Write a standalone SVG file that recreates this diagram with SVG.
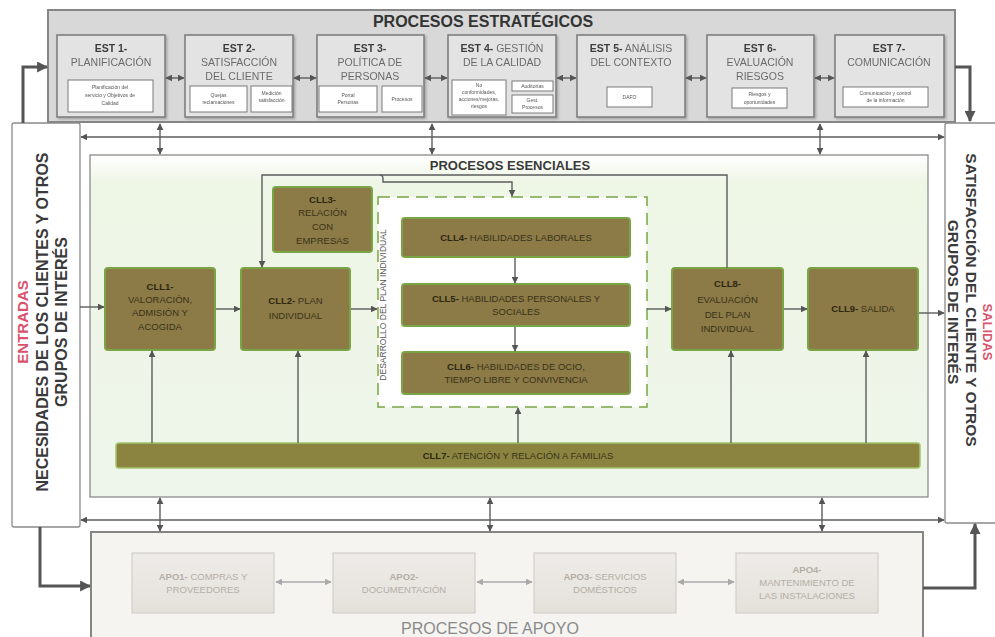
<svg xmlns="http://www.w3.org/2000/svg" width="995" height="637" viewBox="0 0 995 637">
<defs>
<style>
 text { font-family: "Liberation Sans", Arial, sans-serif; }
 .est { fill:#e3e3e3; stroke:#7a7a7a; stroke-width:1.5; }
 .sub { fill:#ffffff; stroke:#7a7a7a; stroke-width:1; }
 .estT { font-size:10.5px; fill:#6b6b6b; text-anchor:middle; }
 .b { font-weight:bold; fill:#3d3d3d; }
 .subT { font-size:5px; fill:#555; text-anchor:middle; }
 .cll { fill:#8c7a47; stroke:#7aa545; stroke-width:2; }
 .cllT { font-size:9.5px; fill:#3a3218; text-anchor:middle; }
 .cllB { font-weight:bold; fill:#2e2812; }
 .apo { fill:url(#apoG); stroke:#d2cfc8; stroke-width:1.2; }
 .apoT { font-size:9.5px; fill:#b3aea6; text-anchor:middle; }
 .ln { fill:none; stroke:#5c5c5c; stroke-width:1.4; }
 .thick { fill:none; stroke:#555; stroke-width:3; }
 .lg { fill:none; stroke:#a9a9a9; stroke-width:1.4; }
 .side { fill:#ffffff; stroke:#8a8a8a; stroke-width:1.3; }
 .sideT { font-size:15.5px; font-weight:bold; fill:#3a3a3a; text-anchor:middle; }
 .red { font-size:15px; font-weight:bold; fill:#d9536d; text-anchor:middle; }
</style>
<marker id="ah" viewBox="0 0 10 10" refX="9" refY="5" markerWidth="7" markerHeight="7" markerUnits="userSpaceOnUse" orient="auto-start-reverse">
 <path d="M0,0 L10,5 L0,10 z" fill="#555"/>
</marker>
<marker id="ahBig" viewBox="0 0 10 10" refX="9" refY="5" markerWidth="11" markerHeight="11" markerUnits="userSpaceOnUse" orient="auto-start-reverse">
 <path d="M0,0 L10,5 L0,10 z" fill="#555"/>
</marker>
<marker id="ahLight" viewBox="0 0 10 10" refX="9" refY="5" markerWidth="7" markerHeight="7" markerUnits="userSpaceOnUse" orient="auto-start-reverse">
 <path d="M0,0 L10,5 L0,10 z" fill="#a9a9a9"/>
</marker>
<linearGradient id="greenG" x1="0" y1="0" x2="0" y2="1">
 <stop offset="0" stop-color="#ffffff"/>
 <stop offset="0.08" stop-color="#eef6e6"/>
 <stop offset="1" stop-color="#eef5ea"/>
</linearGradient>
<linearGradient id="apoG" x1="0" y1="0" x2="0" y2="1">
 <stop offset="0" stop-color="#eeece8"/>
 <stop offset="1" stop-color="#e4e1db"/>
</linearGradient>
<filter id="sh" x="-5%" y="-5%" width="115%" height="120%">
 <feDropShadow dx="1.5" dy="1.5" stdDeviation="1" flood-color="#000" flood-opacity="0.25"/>
</filter>
</defs>

<rect width="995" height="637" fill="#ffffff"/>

<!-- Strategic processes band -->
<g id="estrategicos">
 <rect x="48" y="10" width="907" height="112" fill="#d8d8d8" stroke="#858585" stroke-width="2"/>
 <text x="483" y="27" font-size="16" font-weight="bold" fill="#333" text-anchor="middle">PROCESOS ESTRATÉGICOS</text>
</g>

<g id="est1" filter="url(#sh)">
 <rect class="est" x="57" y="35" width="108" height="82"/>
 <text class="estT"><tspan class="b" x="111" y="52">EST 1-</tspan><tspan x="111" y="66">PLANIFICACIÓN</tspan></text>
 <rect class="sub" x="68" y="80" width="85" height="32"/>
 <text class="subT"><tspan x="110" y="89">Planificación del</tspan><tspan x="110" y="97">servicio y Objetivos de</tspan><tspan x="110" y="105">Calidad</tspan></text>
</g>

<g id="est2" filter="url(#sh)">
 <rect class="est" x="185" y="35" width="108" height="82"/>
 <text class="estT"><tspan class="b" x="239" y="52">EST 2-</tspan><tspan x="239" y="66">SATISFACCIÓN</tspan><tspan x="239" y="80">DEL CLIENTE</tspan></text>
 <rect class="sub" x="190" y="86" width="57" height="26"/>
 <text class="subT"><tspan x="218.5" y="97">Quejas</tspan><tspan x="218.5" y="104">reclamaciones</tspan></text>
 <rect class="sub" x="251" y="86" width="41" height="26"/>
 <text class="subT"><tspan x="271.5" y="95">Medición</tspan><tspan x="271.5" y="102">satisfacción</tspan></text>
</g>

<g id="est3" filter="url(#sh)">
 <rect class="est" x="317" y="35" width="107" height="82"/>
 <text class="estT"><tspan class="b" x="370" y="52">EST 3-</tspan><tspan x="370" y="66">POLÍTICA DE</tspan><tspan x="370" y="80">PERSONAS</tspan></text>
 <rect class="sub" x="319" y="86" width="58" height="26"/>
 <text class="subT"><tspan x="348" y="97">Portal</tspan><tspan x="348" y="104">Personas</tspan></text>
 <rect class="sub" x="382" y="86" width="40" height="26"/>
 <text class="subT" x="402" y="101">Procesos</text>
</g>

<g id="est4" filter="url(#sh)">
 <rect class="est" x="448" y="35" width="108" height="82"/>
 <text class="estT"><tspan x="502" y="52"><tspan class="b">EST 4-</tspan> GESTIÓN</tspan><tspan x="502" y="66">DE LA CALIDAD</tspan></text>
 <rect class="sub" x="452" y="80" width="54" height="35"/>
 <text class="subT"><tspan x="479" y="87">No</tspan><tspan x="479" y="94">conformidades,</tspan><tspan x="479" y="101">acciones/mejoras,</tspan><tspan x="479" y="108">riesgos</tspan></text>
 <rect class="sub" x="512" y="81" width="41" height="10"/>
 <text class="subT" x="532.5" y="88">Auditorías</text>
 <rect class="sub" x="512" y="95" width="41" height="18"/>
 <text class="subT"><tspan x="532.5" y="102">Gest.</tspan><tspan x="532.5" y="109">Procesos</tspan></text>
</g>

<g id="est5" filter="url(#sh)">
 <rect class="est" x="577" y="35" width="108" height="82"/>
 <text class="estT"><tspan x="631" y="52"><tspan class="b">EST 5-</tspan> ANÁLISIS</tspan><tspan x="631" y="66">DEL CONTEXTO</tspan></text>
 <rect class="sub" x="607" y="87" width="45" height="20"/>
 <text class="subT" x="629.5" y="99">DAFO</text>
</g>

<g id="est6" filter="url(#sh)">
 <rect class="est" x="707" y="35" width="107" height="82"/>
 <text class="estT"><tspan class="b" x="760" y="52">EST 6-</tspan><tspan x="760" y="66">EVALUACIÓN</tspan><tspan x="760" y="80">RIESGOS</tspan></text>
 <rect class="sub" x="732" y="88" width="55" height="20"/>
 <text class="subT"><tspan x="759.5" y="96">Riesgos y</tspan><tspan x="759.5" y="104">oportunidades</tspan></text>
</g>

<g id="est7" filter="url(#sh)">
 <rect class="est" x="835" y="35" width="109" height="82"/>
 <text class="estT"><tspan class="b" x="889" y="52">EST 7-</tspan><tspan x="889" y="66">COMUNICACIÓN</tspan></text>
 <rect class="sub" x="843" y="87" width="85" height="20"/>
 <text class="subT"><tspan x="885.5" y="95">Comunicación y control</tspan><tspan x="885.5" y="102">de la información</tspan></text>
</g>

<!-- Inputs / outputs columns -->
<g id="entradas">
 <rect class="side" x="12" y="123" width="68" height="404" rx="2"/>
 <text class="red" transform="translate(28,322) rotate(-90)">ENTRADAS</text>
 <text class="sideT" transform="translate(48,322) rotate(-90)" style="font-size:16px">NECESIDADES DE LOS CLIENTES Y OTROS</text>
 <text class="sideT" transform="translate(67,322) rotate(-90)" style="font-size:16px">GRUPOS DE INTERÉS</text>
</g>

<g id="salidas">
 <rect class="side" x="945" y="123" width="60" height="400" rx="2"/>
 <text class="red" transform="translate(983,332) rotate(90)" style="font-size:13px">SALIDAS</text>
 <text class="sideT" transform="translate(966,300) rotate(90)">SATISFACCIÓN DEL CLIENTE Y OTROS</text>
 <text class="sideT" transform="translate(948,302) rotate(90)">GRUPOS DE INTERÉS</text>
</g>

<!-- Core processes area -->
<g id="esenciales">
 <rect x="90" y="155" width="838" height="342" fill="url(#greenG)" stroke="#8a8a8a" stroke-width="1.3"/>
 <text x="510" y="170" font-size="13" font-weight="bold" fill="#3a3a3a" text-anchor="middle">PROCESOS ESENCIALES</text>
</g>

<g id="desarrollo">
 <rect x="378" y="197" width="269" height="210" fill="#ffffff" stroke="#7aa545" stroke-width="1.5" stroke-dasharray="12,7"/>
 <text transform="translate(386,305) rotate(-90)" font-size="8.5" fill="#555" text-anchor="middle">DESARROLLO DEL PLAN INDIVIDUAL</text>
</g>

<g id="cll3">
 <rect class="cll" x="273" y="187" width="99" height="65" rx="3"/>
 <text class="cllT"><tspan class="cllB" x="322.5" y="203">CLL3-</tspan><tspan x="322.5" y="216">RELACIÓN</tspan><tspan x="322.5" y="230">CON</tspan><tspan x="322.5" y="244">EMPRESAS</tspan></text>
</g>

<g id="cll1">
 <rect class="cll" x="105" y="268" width="110" height="82" rx="3"/>
 <text class="cllT"><tspan class="cllB" x="160" y="290">CLL1-</tspan><tspan x="160" y="303">VALORACIÓN,</tspan><tspan x="160" y="316">ADMISIÓN Y</tspan><tspan x="160" y="330">ACOGIDA</tspan></text>
</g>

<g id="cll2">
 <rect class="cll" x="241" y="268" width="109" height="82" rx="3"/>
 <text class="cllT"><tspan x="295.5" y="304"><tspan class="cllB">CLL2-</tspan> PLAN</tspan><tspan x="295.5" y="319">INDIVIDUAL</tspan></text>
</g>

<g id="cll4">
 <rect class="cll" x="402" y="218" width="228" height="39" rx="3"/>
 <text class="cllT" x="516" y="241"><tspan class="cllB">CLL4-</tspan> HABILIDADES LABORALES</text>
</g>

<g id="cll5">
 <rect class="cll" x="402" y="284" width="228" height="42" rx="3"/>
 <text class="cllT"><tspan x="516" y="302"><tspan class="cllB">CLL5-</tspan> HABILIDADES PERSONALES Y</tspan><tspan x="516" y="315">SOCIALES</tspan></text>
</g>

<g id="cll6">
 <rect class="cll" x="402" y="352" width="228" height="42" rx="3"/>
 <text class="cllT"><tspan x="516" y="370"><tspan class="cllB">CLL6-</tspan> HABILIDADES DE OCIO,</tspan><tspan x="516" y="383">TIEMPO LIBRE Y CONVIVENCIA</tspan></text>
</g>

<g id="cll8">
 <rect class="cll" x="672" y="268" width="111" height="82" rx="3"/>
 <text class="cllT"><tspan class="cllB" x="727.5" y="287">CLL8-</tspan><tspan x="727.5" y="303">EVALUACIÓN</tspan><tspan x="727.5" y="318">DEL PLAN</tspan><tspan x="727.5" y="332">INDIVIDUAL</tspan></text>
</g>

<g id="cll9">
 <rect class="cll" x="808" y="268" width="110" height="82" rx="3"/>
 <text class="cllT" x="863" y="312"><tspan class="cllB">CLL9-</tspan> SALIDA</text>
</g>

<g id="cll7">
 <rect x="116" y="443" width="804" height="25" rx="3" fill="#8b8441" stroke="#a3c46a" stroke-width="1.5"/>
 <text class="cllT" x="518" y="459"><tspan class="cllB">CLL7-</tspan> ATENCIÓN Y RELACIÓN A FAMILIAS</text>
</g>

<!-- Support processes band -->
<g id="apoyo">
 <rect x="91" y="532" width="832" height="110" fill="#f5f4f1" stroke="#858585" stroke-width="2"/>
 <text x="490" y="634" font-size="16" fill="#8a8a8a" text-anchor="middle">PROCESOS DE APOYO</text>
</g>

<g id="apo1">
 <rect class="apo" x="132" y="553" width="142" height="60"/>
 <text class="apoT"><tspan x="203" y="580"><tspan font-weight="bold">APO1-</tspan> COMPRAS Y</tspan><tspan x="203" y="593">PROVEEDORES</tspan></text>
</g>
<g id="apo2">
 <rect class="apo" x="333" y="553" width="142" height="60"/>
 <text class="apoT"><tspan font-weight="bold" x="404" y="580">APO2-</tspan><tspan x="404" y="593">DOCUMENTACIÓN</tspan></text>
</g>
<g id="apo3">
 <rect class="apo" x="534" y="553" width="142" height="60"/>
 <text class="apoT"><tspan x="605" y="580"><tspan font-weight="bold">APO3-</tspan> SERVICIOS</tspan><tspan x="605" y="593">DOMÉSTICOS</tspan></text>
</g>
<g id="apo4">
 <rect class="apo" x="736" y="553" width="142" height="60"/>
 <text class="apoT"><tspan font-weight="bold" x="807" y="573">APO4-</tspan><tspan x="807" y="586">MANTENIMIENTO DE</tspan><tspan x="807" y="599">LAS INSTALACIONES</tspan></text>
</g>

<!-- Connectors -->
<g id="connectors">
 <!-- between strategic processes -->
 <line class="ln" x1="166" y1="78" x2="184" y2="78" marker-start="url(#ah)" marker-end="url(#ah)"/>
 <line class="ln" x1="294" y1="78" x2="316" y2="78" marker-start="url(#ah)" marker-end="url(#ah)"/>
 <line class="ln" x1="425" y1="78" x2="447" y2="78" marker-start="url(#ah)" marker-end="url(#ah)"/>
 <line class="ln" x1="557" y1="78" x2="576" y2="78" marker-start="url(#ah)" marker-end="url(#ah)"/>
 <line class="ln" x1="686" y1="78" x2="706" y2="78" marker-start="url(#ah)" marker-end="url(#ah)"/>
 <line class="ln" x1="815" y1="78" x2="834" y2="78" marker-start="url(#ah)" marker-end="url(#ah)"/>

 <!-- upper bus -->
 <line class="ln" x1="81" y1="137" x2="944" y2="137" marker-start="url(#ah)" marker-end="url(#ah)"/>
 <line class="ln" x1="160" y1="124" x2="160" y2="154" marker-start="url(#ah)" marker-end="url(#ah)"/>
 <line class="ln" x1="432" y1="124" x2="432" y2="154" marker-start="url(#ah)" marker-end="url(#ah)"/>
 <line class="ln" x1="820" y1="124" x2="820" y2="154" marker-start="url(#ah)" marker-end="url(#ah)"/>

 <!-- lower bus -->
 <line class="ln" x1="81" y1="520" x2="944" y2="520" marker-start="url(#ah)" marker-end="url(#ah)"/>
 <line class="ln" x1="160" y1="498" x2="160" y2="531" marker-start="url(#ah)" marker-end="url(#ah)"/>
 <line class="ln" x1="490" y1="498" x2="490" y2="531" marker-start="url(#ah)" marker-end="url(#ah)"/>
 <line class="ln" x1="822" y1="498" x2="822" y2="531" marker-start="url(#ah)" marker-end="url(#ah)"/>

 <!-- outer loops -->
 <path class="thick" d="M23,123 V67 H47" marker-end="url(#ahBig)"/>
 <path class="thick" d="M955,67 H970 V121" marker-end="url(#ahBig)"/>
 <path class="thick" d="M40,527 V586 H90" marker-end="url(#ahBig)"/>
 <path class="thick" d="M923,588 H975 V524" marker-end="url(#ahBig)"/>

 <!-- main flow -->
 <line class="ln" x1="80" y1="307" x2="104" y2="307" marker-end="url(#ah)"/>
 <line class="ln" x1="216" y1="309" x2="240" y2="309" marker-end="url(#ah)"/>
 <line class="ln" x1="351" y1="309" x2="377" y2="309" marker-end="url(#ah)"/>
 <line class="ln" x1="647" y1="309" x2="671" y2="309" marker-end="url(#ah)"/>
 <line class="ln" x1="784" y1="309" x2="807" y2="309" marker-end="url(#ah)"/>
 <line class="ln" x1="919" y1="313" x2="944" y2="313" marker-end="url(#ah)"/>

 <!-- evaluation feedback -->
 <path class="ln" d="M727,268 V175 H262 V267" marker-end="url(#ah)"/>
 <path class="ln" d="M380,175 Q383,175 383,179 V182 H512 V196" marker-end="url(#ah)"/>

 <!-- development sequence -->
 <line class="ln" x1="515" y1="258" x2="515" y2="283" marker-end="url(#ah)"/>
 <line class="ln" x1="515" y1="327" x2="515" y2="351" marker-end="url(#ah)"/>

 <!-- family support -->
 <line class="ln" x1="152" y1="443" x2="152" y2="351" marker-end="url(#ah)"/>
 <line class="ln" x1="298" y1="443" x2="298" y2="351" marker-end="url(#ah)"/>
 <line class="ln" x1="518" y1="443" x2="518" y2="408" marker-end="url(#ah)"/>
 <line class="ln" x1="731" y1="443" x2="731" y2="351" marker-end="url(#ah)"/>
 <line class="ln" x1="866" y1="443" x2="866" y2="351" marker-end="url(#ah)"/>

 <!-- between support processes -->
 <line class="lg" x1="276" y1="582" x2="331" y2="582" marker-start="url(#ahLight)" marker-end="url(#ahLight)"/>
 <line class="lg" x1="477" y1="582" x2="532" y2="582" marker-start="url(#ahLight)" marker-end="url(#ahLight)"/>
 <line class="lg" x1="678" y1="582" x2="734" y2="582" marker-start="url(#ahLight)" marker-end="url(#ahLight)"/>
</g>
</svg>
